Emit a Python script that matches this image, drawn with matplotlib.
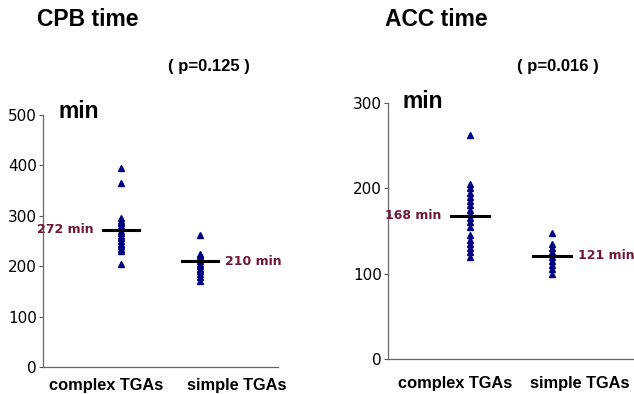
import numpy as np
import matplotlib
matplotlib.use("Agg")
import matplotlib.pyplot as plt

# data (minutes)
cpb_complex = [395, 365, 295, 290, 285, 280, 275, 270, 265, 260, 255, 250, 245, 240, 235, 230, 205]
cpb_simple = [262, 225, 222, 218, 215, 210, 205, 200, 195, 190, 185, 178, 170]
acc_complex = [262, 205, 200, 195, 190, 185, 180, 175, 170, 165, 160, 155, 145, 140, 135, 130, 125, 120]
acc_simple = [148, 135, 130, 125, 120, 115, 110, 105, 100]

cpb_means = [272, 210]
acc_means = [168, 121]
groups = ["complex TGAs", "simple TGAs"]
titles = ["CPB time", "ACC time"]
pvalues = ["( p=0.125 )", "( p=0.016 )"]

W, H = 634, 394
fig = plt.figure(figsize=(W / 100, H / 100), dpi=100)
fig.patch.set_facecolor("white")

def px(x, y):
    return x / W, 1 - y / H

mark_col = "#000080"
lab_col = "#6e1836"

def panel(rect, a, b, means, ymax, step, label_x, pad):
    ax = fig.add_axes(rect)
    ax.plot([1] * len(a), a, "^", color=mark_col, ms=5, mec=mark_col)
    ax.plot([2] * len(b), b, "^", color=mark_col, ms=5, mec=mark_col)
    for i, m in enumerate(means):
        ax.plot([i + 1 - 0.23, i + 1 + 0.23], [m, m], color="black", lw=2.2)
    ax.text(1 - 0.35, means[0], f"{means[0]} min", ha="right", va="center",
            color=lab_col, fontsize=9, fontweight="bold", family="DejaVu Sans")
    ax.text(2 + 0.32, means[1], f"{means[1]} min", ha="left", va="center",
            color=lab_col, fontsize=9, fontweight="bold", family="DejaVu Sans",
            clip_on=False)
    ax.set_xlim(0, 3)
    ax.set_ylim(0, ymax)
    ax.set_yticks(np.arange(0, ymax + 1, step))
    ax.set_xticks(label_x)
    ax.set_xticklabels(groups, fontsize=11.8, fontweight="bold", family="Liberation Sans")
    ax.tick_params(axis="x", length=0, pad=pad)
    ax.tick_params(axis="y", length=3, width=0.8, labelsize=11, pad=1.5, color="#555555")
    for s in ["top", "right"]:
        ax.spines[s].set_visible(False)
    for s in ["left", "bottom"]:
        ax.spines[s].set_color("#666666")
        ax.spines[s].set_linewidth(0.9)
    return ax

panel([43 / W, 1 - 367 / H, 235 / W, 252 / H], cpb_complex, cpb_simple, cpb_means,
      500, 100, [0.8, 2.47], 8)
panel([388 / W, 1 - 359 / H, 246 / W, 256 / H], acc_complex, acc_simple, acc_means,
      300, 100, [0.82, 2.34], 12)

fig.text(*px(37, 20), titles[0], ha="left", va="center", fontsize=16.5, fontweight="bold",
         family="Liberation Sans")
fig.text(*px(385, 20), titles[1], ha="left", va="center", fontsize=16.5, fontweight="bold",
         family="Liberation Sans")
fig.text(*px(209, 67), pvalues[0], ha="center", va="center", fontsize=12, fontweight="bold",
         family="Liberation Sans")
fig.text(*px(558, 67), pvalues[1], ha="center", va="center", fontsize=12, fontweight="bold",
         family="Liberation Sans")
fig.text(*px(58, 112), "min", ha="left", va="center", fontsize=16.5, fontweight="bold",
         family="Liberation Sans")
fig.text(*px(402, 101), "min", ha="left", va="center", fontsize=16.5, fontweight="bold",
         family="Liberation Sans")

fig.savefig("out.png", dpi=100, facecolor="white")
